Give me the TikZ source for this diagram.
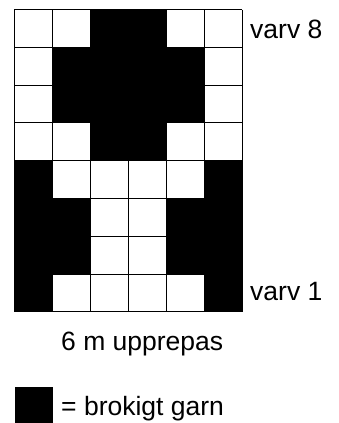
\documentclass[tikz,border=0pt]{standalone}
\usepackage{fontspec}
\setmainfont{Liberation Sans}
\tikzset{
  lbl/.style={inner sep=0pt,anchor=base west,font=\fontsize{26.5}{30}\selectfont},
  gridline/.style={line width=1pt,draw=black}
}
\begin{document}
\begin{tikzpicture}[x=1pt,y=-1pt]
\useasboundingbox (0,0) rectangle (339,423);
% black stitches, column/row counted from top left
\foreach \c/\r in {2/0,3/0,1/1,2/1,3/1,4/1,1/2,2/2,3/2,4/2,2/3,3/3,
                   0/4,5/4,0/5,1/5,4/5,5/5,0/6,1/6,4/6,5/6,0/7,5/7}
  \fill ({14+38*\c},{9.5+37.8*\r}) rectangle ++(38,37.8);
% grid
\foreach \c in {0,...,6}
  \draw[gridline] ({14+38*\c},9.5) -- ({14+38*\c},311.9);
\foreach \r in {0,...,8}
  \draw[gridline] (14,{9.5+37.8*\r}) -- (242,{9.5+37.8*\r});
\node[lbl] (v8) at (250,38.3) {varv 8};
\node[lbl] (v1) at (250,300) {varv 1};
\node[lbl] (rep) at (61,350) {6 m upprepas};
\node[fill,minimum width=38pt,minimum height=36pt,inner sep=0pt,anchor=north west] (key) at (15,387) {};
\node[lbl] (leg) at (61,415) {= brokigt garn};
\end{tikzpicture}
\end{document}
